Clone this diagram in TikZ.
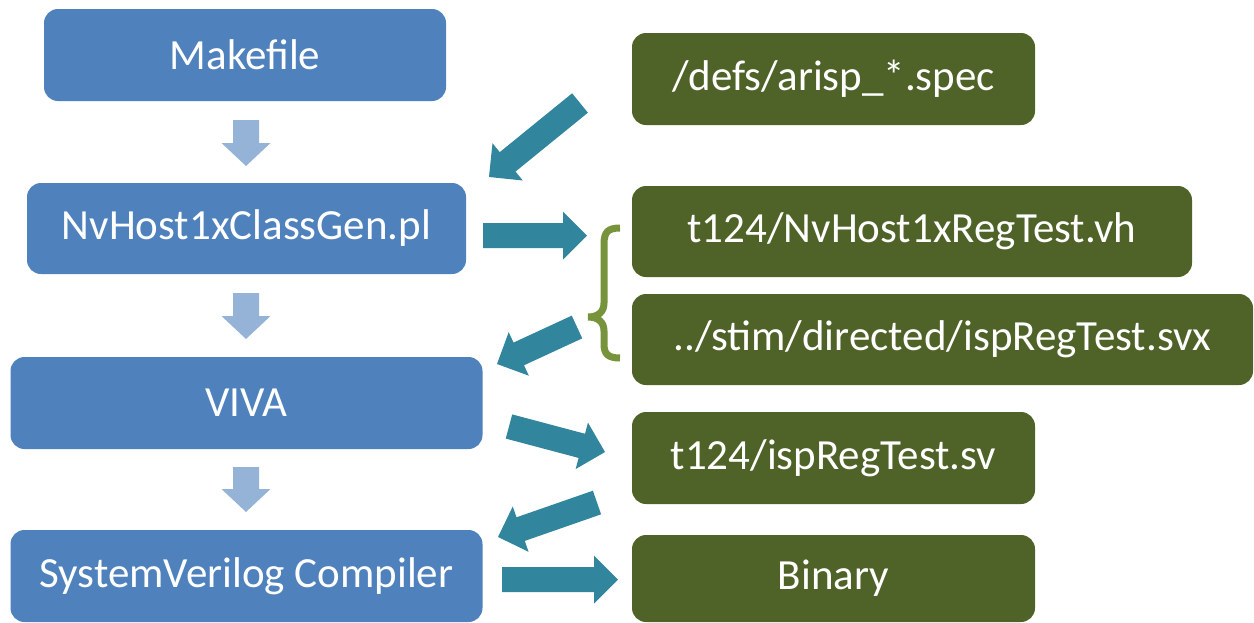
\documentclass[tikz,border=0pt]{standalone}
\usepackage{fontspec}
\setmainfont{Carlito}
\usetikzlibrary{calc}
\definecolor{boxblue}{HTML}{4F81BD}
\definecolor{boxgreen}{HTML}{4F6228}
\definecolor{arrowteal}{HTML}{31859C}
\definecolor{lightarrow}{HTML}{95B3D7}
\definecolor{braceolive}{HTML}{77933C}
\newcommand{\blockarrow}[6]{%
  \coordinate (hb) at ($(#3)!#6!(#2)$);
  \fill[#1] ($(#2)!#4!90:(#3)$) -- ($(hb)!#4!-90:(#2)$) -- ($(hb)!#5!-90:(#2)$) -- (#3)
    -- ($(hb)!#5!90:(#2)$) -- ($(hb)!#4!90:(#2)$) -- ($(#2)!#4!-90:(#3)$) -- cycle;
}
\tikzset{
  box/.style={rounded corners=14pt, inner sep=0pt, text=white,
    font=\fontsize{43}{50}\selectfont, align=center},
  bluebox/.style={box, fill=boxblue},
  greenbox/.style={box, fill=boxgreen},
  tealarrow/.style={fill=arrowteal},
  lightblock/.style={fill=lightarrow},
  bracestyle/.style={draw=braceolive, line width=7pt}
}
\begin{document}
\begin{tikzpicture}[x=1pt,y=-1pt]
\useasboundingbox (0,0) rectangle (1254,622);
% left column
\node[bluebox, minimum width=402pt, minimum height=92pt] (mk) at (245,55) {Makefile};
\node[bluebox, minimum width=439pt, minimum height=91pt] (gen) at (246.5,228.5) {NvHost1xClassGen.pl};
\node[bluebox, minimum width=472pt, minimum height=92pt] (viva) at (246.5,403) {VIVA};
\node[bluebox, minimum width=472pt, minimum height=92pt] (svc) at (246.5,576) {SystemVerilog Compiler};
% right column
\node[greenbox, minimum width=403pt, minimum height=92pt] (defs) at (833.5,79) {/defs/arisp\_*.spec};
\node[greenbox, minimum width=560pt, minimum height=91pt] (vh) at (912,231.5) {t124/NvHost1xRegTest.vh};
\node[greenbox, minimum width=621pt, minimum height=91pt] (svx) at (942.5,339.5) {../stim/directed/ispRegTest.svx};
\node[greenbox, minimum width=403pt, minimum height=92pt] (sv) at (833.5,458) {t124/ispRegTest.sv};
\node[greenbox, minimum width=403pt, minimum height=87pt] (bin) at (833.5,578.5) {Binary};
% light down arrows
\coordinate (d1t) at (246,120); \coordinate (d1p) at (246,166);
\coordinate (d2t) at (246,293); \coordinate (d2p) at (246,339);
\coordinate (d3t) at (246,467); \coordinate (d3p) at (246,512);
\blockarrow{lightblock}{d1t}{d1p}{13pt}{24.5pt}{23pt}
\blockarrow{lightblock}{d2t}{d2p}{13pt}{24.5pt}{23pt}
\blockarrow{lightblock}{d3t}{d3p}{13pt}{24.5pt}{23pt}
% teal arrows
\coordinate (a1t) at (580,103); \coordinate (a1p) at (489,177);
\coordinate (a2t) at (483,235.5); \coordinate (a2p) at (587,235.5);
\coordinate (a3t) at (577,327); \coordinate (a3p) at (497,364);
\coordinate (a4t) at (509,426.5); \coordinate (a4p) at (605,452);
\coordinate (a5t) at (597,502.5); \coordinate (a5p) at (498,537);
\coordinate (a6t) at (502,579.5); \coordinate (a6p) at (618,579.5);
\blockarrow{tealarrow}{a1t}{a1p}{12.5pt}{24pt}{24pt}
\blockarrow{tealarrow}{a2t}{a2p}{12.5pt}{24pt}{24pt}
\blockarrow{tealarrow}{a3t}{a3p}{12.5pt}{24pt}{24pt}
\blockarrow{tealarrow}{a4t}{a4p}{12.5pt}{24pt}{24pt}
\blockarrow{tealarrow}{a5t}{a5p}{12.5pt}{24pt}{24pt}
\blockarrow{tealarrow}{a6t}{a6p}{12.5pt}{24pt}{24pt}
% brace
\coordinate (bt) at (620,228);
\coordinate (bb) at (620,358);
\draw[bracestyle] (bt) .. controls (608,228) and (604,232) .. (604,244) -- (604,303)
  .. controls (604,312) and (598,317) .. (588,317)
  .. controls (598,317) and (604,322) .. (604,331) -- (604,344)
  .. controls (604,354) and (608,358) .. (bb);
\end{tikzpicture}
\end{document}
